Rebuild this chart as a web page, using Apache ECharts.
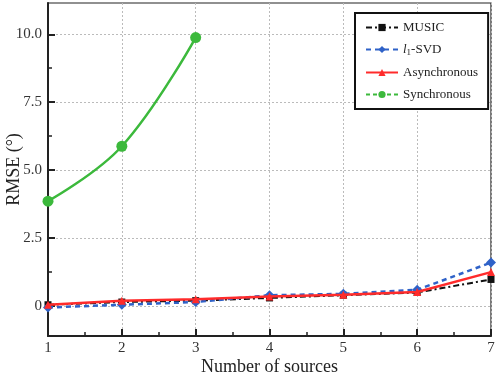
<!DOCTYPE html>
<html><head><meta charset="utf-8">
<script src="https://cdn.jsdelivr.net/npm/echarts@6/dist/echarts.min.js"></script>
<style>html,body{margin:0;padding:0;background:#fff}#c{width:498px;height:377px}</style>
</head><body><div id="c"></div>
<script>
const xValues = [1, 2, 3, 4, 5, 6, 7];
const musicValues = [0.05, 0.15, 0.2, 0.3, 0.4, 0.5, 0.98];
const l1svdValues = [-0.05, 0.05, 0.15, 0.4, 0.45, 0.6, 1.6];
const asyncValues = [0.05, 0.2, 0.25, 0.35, 0.42, 0.52, 1.25];
const syncValues = [3.86, 5.88, 9.88];
const yMajorTicks = [0, 2.5, 5, 7.5, 10];
const yMinorTicks = [1.25, 3.75, 6.25, 8.75];
const yLabels = ['0', '2.5', '5.0', '7.5', '10.0'];

const font = 'Liberation Serif';
const pair = (vals) => vals.map((v, i) => [xValues[i], v]);

const chart = echarts.init(document.getElementById('c'));
chart.setOption({
  animation: false,
  backgroundColor: '#fff',
  textStyle: { fontFamily: font },
  grid: { left: 48, right: 7, top: 3, bottom: 41, outerBoundsMode: 'none', containLabel: false,
    show: true, borderColor: '#222', borderWidth: 1.2, backgroundColor: 'transparent' },
  xAxis: {
    type: 'value', min: 1, max: 7, interval: 1,
    name: 'Number of sources', nameLocation: 'middle', nameGap: 22, nameMoveOverlap: false,
    nameTextStyle: { fontFamily: font, fontSize: 18, color: '#222' },
    axisLine: { onZero: false, lineStyle: { color: '#222', width: 2 } },
    axisTick: { inside: true, length: 7, lineStyle: { color: '#222', width: 2 } },
    minorTick: { show: true, splitNumber: 2, length: 4, lineStyle: { color: '#222', width: 1.5 } },
    axisLabel: { fontFamily: font, fontSize: 15, color: '#333', margin: 5 },
    splitLine: { show: true, lineStyle: { color: '#bbb', type: [2, 2], width: 1 } }
  },
  yAxis: [{
    type: 'value', min: -1.1, max: 11.15,
    name: 'RMSE (°)', nameLocation: 'middle', nameGap: 25, nameMoveOverlap: false,
    nameTextStyle: { fontFamily: font, fontSize: 18, color: '#222' },
    axisLine: { onZero: false, lineStyle: { color: '#222', width: 2 } },
    axisTick: { inside: true, length: 7, customValues: yMajorTicks, lineStyle: { color: '#222', width: 2 } },
    axisLabel: { fontFamily: font, fontSize: 15, color: '#333', margin: 6,
      customValues: yMajorTicks,
      formatter: (v) => yLabels[yMajorTicks.indexOf(v)] },
    splitLine: { show: true, lineStyle: { color: '#bbb', type: [2, 2], width: 1 } }
  }, {
    type: 'value', min: -1.1, max: 11.15, position: 'left',
    axisLine: { show: false, onZero: false },
    axisTick: { show: true, inside: true, length: 4, customValues: yMinorTicks, lineStyle: { color: '#222', width: 1.5 } },
    axisLabel: { show: false },
    splitLine: { show: false }
  }],
  legend: {
    left: 355, top: 13, orient: 'vertical',
    width: 132,
    backgroundColor: '#fff', borderColor: '#111', borderWidth: 2,
    padding: [8, 10, 8, 10], itemGap: 9, itemWidth: 32, itemHeight: 9,
    textStyle: { fontFamily: font, fontSize: 13, color: '#222',
      rich: { i: { fontFamily: font, fontStyle: 'italic', fontSize: 13 }, s: { fontFamily: font, fontSize: 9, verticalAlign: 'bottom', padding: [6, 0, 0, 0] } } },
    formatter: (n) => n === 'l1-SVD' ? '{i|l}{s|1}-SVD' : n,
    data: [
      { name: 'MUSIC' },
      { name: 'l1-SVD' },
      { name: 'Asynchronous' },
      { name: 'Synchronous', lineStyle: { type: [4, 3] } }
    ]
  },
  series: [
    { name: 'MUSIC', type: 'line', data: pair(musicValues), z: 3,
      lineStyle: { color: '#111', width: 2, type: [6, 3, 2, 3] },
      itemStyle: { color: '#111' }, symbol: 'rect', symbolSize: 7 },
    { name: 'l1-SVD', type: 'line', data: pair(l1svdValues), z: 4,
      lineStyle: { color: '#2f62c8', width: 2.5, type: [5, 4] },
      itemStyle: { color: '#2f62c8' }, symbol: 'diamond', symbolSize: 10 },
    { name: 'Asynchronous', type: 'line', data: pair(asyncValues), z: 5,
      lineStyle: { color: '#ff2b2b', width: 2.5 },
      itemStyle: { color: '#ff2b2b' }, symbol: 'triangle', symbolSize: 8 },
    { name: 'Synchronous', type: 'line', data: pair(syncValues), z: 6, smooth: 0.4,
      lineStyle: { color: '#3cb93c', width: 2.5 },
      itemStyle: { color: '#3cb93c' }, symbol: 'circle', symbolSize: 11 }
  ]
});
</script></body></html>
